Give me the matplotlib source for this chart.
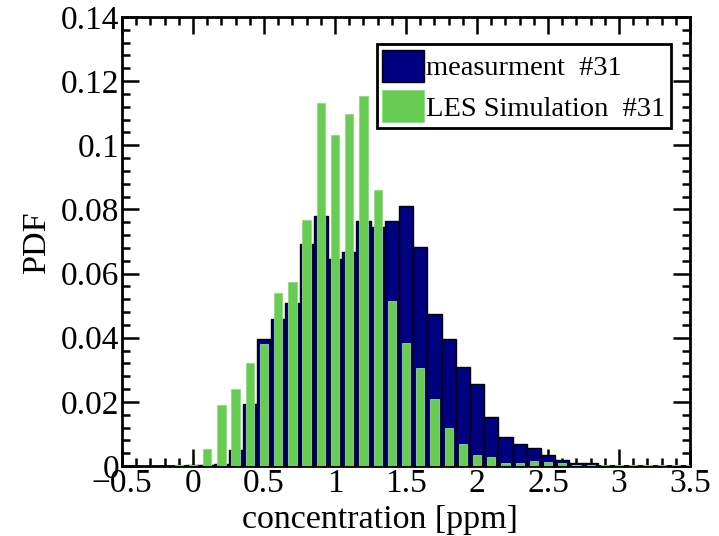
import numpy as np
import matplotlib
matplotlib.use("Agg")
import matplotlib.pyplot as plt
from matplotlib.ticker import MultipleLocator

# bin centres (ppm) and PDF values
bins = np.round(np.arange(-0.1, 3.55, 0.1), 1)
measurement = [0.0, 0.0002, 0.0004, 0.0007, 0.0050, 0.0192, 0.0395, 0.0457,
               0.0509, 0.0691, 0.0780, 0.0645, 0.0666, 0.0765, 0.0745, 0.0764,
               0.0811, 0.0683, 0.0474, 0.0395, 0.0310, 0.0255, 0.0154, 0.0089,
               0.0069, 0.0057, 0.0035, 0.0020, 0.0010, 0.0010, 0.0, 0.0,
               0.0, 0.0, 0.0, 0.0, 0.0]
les = [0.0003, 0.0003, 0.0054, 0.0189, 0.0240, 0.0321, 0.0381, 0.0540,
       0.0573, 0.0768, 0.1133, 0.1033, 0.1096, 0.1155, 0.0860, 0.0513,
       0.0382, 0.0304, 0.0208, 0.0119, 0.0068, 0.0035, 0.0027, 0.0009,
       0.0009, 0.0016, 0.0013, 0.0010, 0.0004, 0.0003, 0.0003, 0.0003,
       0.0003, 0.0003, 0.0003, 0.0003, 0.0003]
labels = ["measurment  #31", "LES Simulation  #31"]
xticks = ['\u22120.5', '0', '0.5', '1', '1.5', '2', '2.5', '3', '3.5']
yticks = ['0', '0.02', '0.04', '0.06', '0.08', '0.1', '0.12', '0.14']

plt.rcParams['font.family'] = ['Liberation Serif', 'DejaVu Serif']

fig = plt.figure(figsize=(7.19, 5.36), dpi=100)
ax = fig.add_axes([0.1697, 0.1306, 0.79, 0.8377])

ax.bar(bins, measurement, width=0.1, color='#000080', edgecolor='black',
       linewidth=1.0, label=labels[0], zorder=2)
ax.bar(bins, les, width=0.058, color='#66cc52', edgecolor='#8fdc80',
       linewidth=0.6, label=labels[1], zorder=3)

ax.set_xlim(-0.5, 3.5)
ax.set_ylim(0, 0.14)
ax.set_xticks(np.arange(-0.5, 3.51, 0.5))
ax.set_xticklabels(xticks)
ax.set_yticks(np.arange(0, 0.141, 0.02))
ax.set_yticklabels(yticks)
ax.xaxis.set_minor_locator(MultipleLocator(0.1))
ax.yaxis.set_minor_locator(MultipleLocator(0.004))

ax.tick_params(which='both', direction='in', top=True, right=True,
               labelsize=24, width=1.8)
ax.tick_params(which='major', length=12, pad=2)
ax.tick_params(which='minor', length=6)
for s in ax.spines.values():
    s.set_linewidth(2)

ax.set_xlabel('concentration [ppm]', fontsize=24.5)
ax.xaxis.set_label_coords(0.454, -0.085)
ax.set_ylabel('PDF', fontsize=24.5, labelpad=6)

leg = ax.legend(loc='upper right', bbox_to_anchor=(0.967, 0.94), fontsize=20.5,
                frameon=True, fancybox=False, framealpha=1,
                handlelength=1.45, handleheight=1.35, handletextpad=0.1,
                borderpad=0.2, labelspacing=0.3, borderaxespad=0)
leg.get_frame().set_edgecolor('black')
leg.get_frame().set_linewidth(2)

fig.savefig('out.png', dpi=100)
